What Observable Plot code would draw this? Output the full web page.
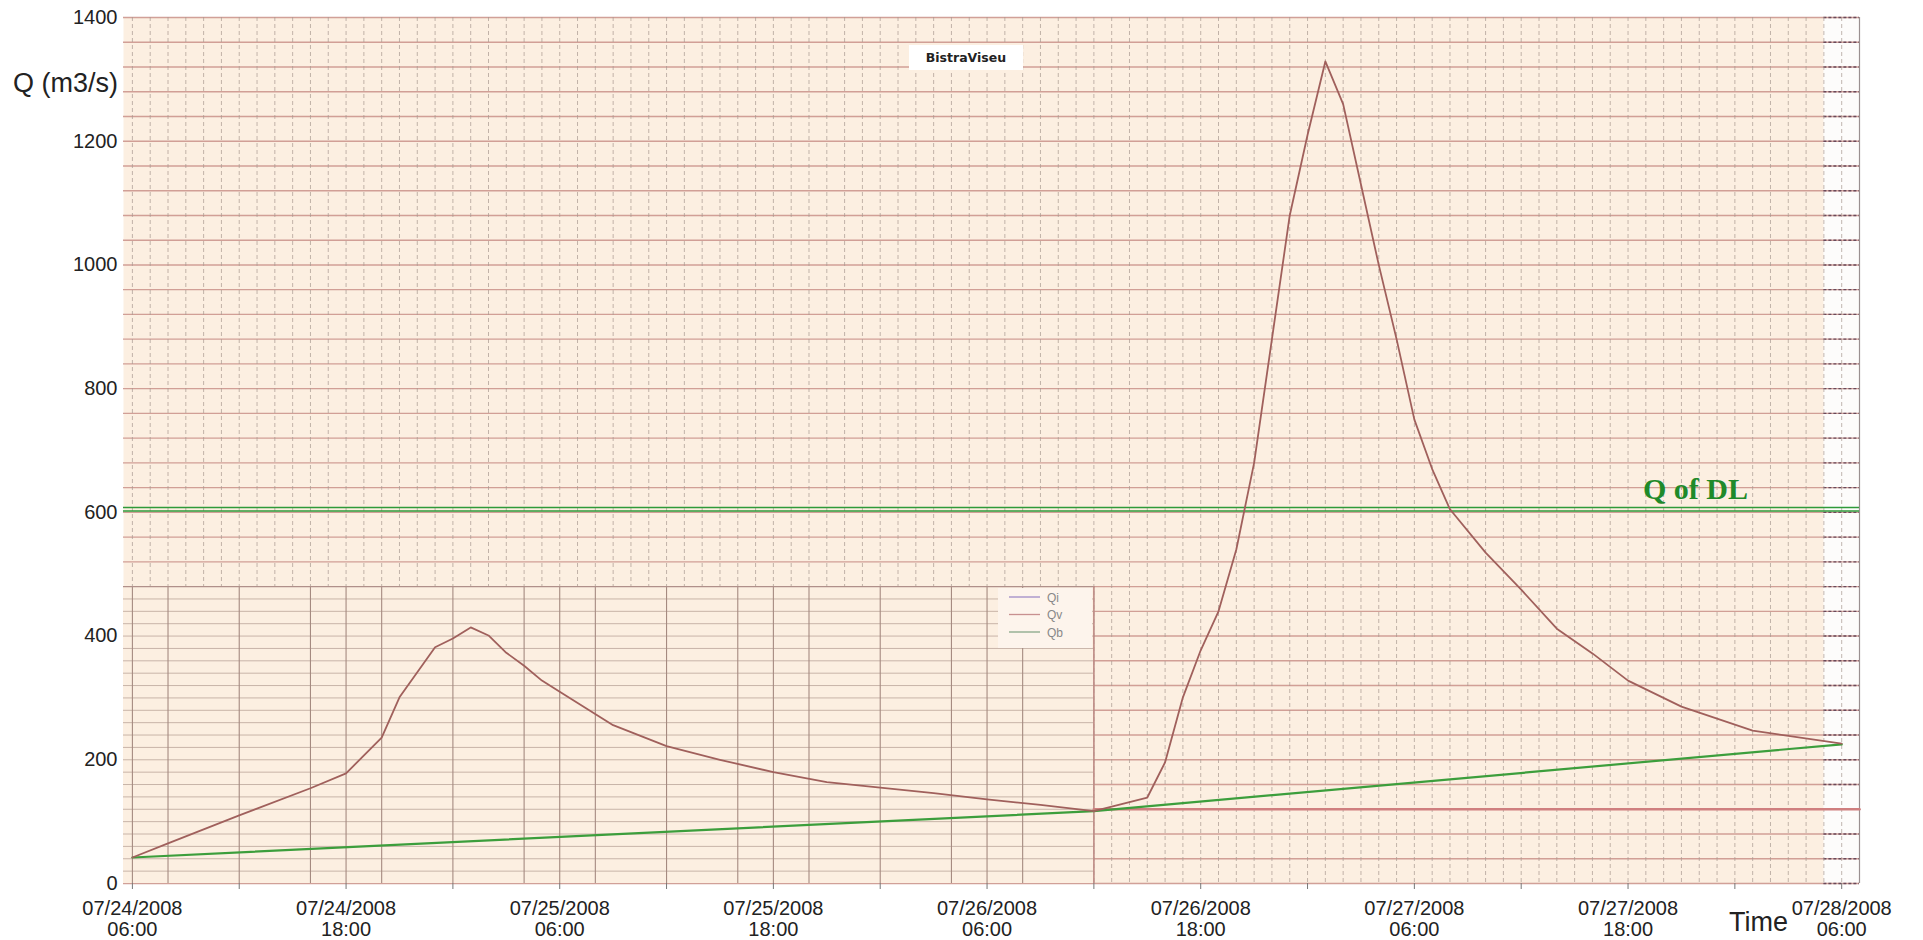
<!DOCTYPE html>
<html><head><meta charset="utf-8">
<script src="https://cdn.jsdelivr.net/npm/d3@7"></script>
<script src="https://cdn.jsdelivr.net/npm/@observablehq/plot@0.6"></script>
<style>
body{margin:0;background:#fff;}
#chart{width:1923px;height:940px;}
</style>
</head><body><div id="chart"></div>
<script>
// ---- data ----
const startTime = "2008-07-24T06:00Z";
const domainTimes = ["2008-07-24T05:30Z", "2008-07-28T07:00Z"];
const yDomain = [0, 1400];
const yTicks = [0, 200, 400, 600, 800, 1000, 1200, 1400];
const xTickTimes = ["2008-07-24T06:00Z","2008-07-24T18:00Z","2008-07-25T06:00Z","2008-07-25T18:00Z","2008-07-26T06:00Z","2008-07-26T18:00Z","2008-07-27T06:00Z","2008-07-27T18:00Z","2008-07-28T06:00Z"];
const xTickLabels = ["07/24/2008\n06:00","07/24/2008\n18:00","07/25/2008\n06:00","07/25/2008\n18:00","07/26/2008\n06:00","07/26/2008\n18:00","07/27/2008\n06:00","07/27/2008\n18:00","07/28/2008\n06:00"];
// hours after 07/24/2008 06:00
const qvHours  = [0, 2, 6, 10, 12, 14, 15, 17, 18, 19, 20, 21, 22, 23, 24, 27, 30, 33, 36, 39, 42, 45, 48, 51, 54, 57, 58, 59, 60, 61, 62, 63, 64, 65, 66, 67, 68, 69, 70, 71, 72, 73, 74, 76, 78, 80, 82, 84, 87, 91, 96];
const qvValues = [42, 65, 110, 154, 178, 236, 301, 382, 396, 414, 401, 373, 352, 328, 310, 256, 222, 200, 180, 164, 155, 146, 136, 127, 117, 139, 196, 301, 377, 440, 540, 680, 880, 1080, 1210, 1329, 1260, 1130, 1000, 880, 750, 670, 605, 535, 475, 412, 372, 328, 286, 247, 226];
const qbHours  = [0, 54, 96];
const qbValues = [42, 117, 225];
const qiHours = [54, 97];
const qiValue = 120;
const qDL = 605;
const qDLLabel = "Q of DL";
const yLabel = "Q (m3/s)";
const xLabel = "Time";
const titleText = "BistraViseu";
const insetEndHour = 54;
const insetTop = 480;
const stripHours = [95, 97];
const legendNames = ["Qi", "Qv", "Qb"];
const legendColors = ["#a08cc8", "#c89090", "#88a888"];

// ---- build ----
const t0 = new Date(startTime);
const hr = h => new Date(t0.getTime() + h * 3600e3);
const qv = qvHours.map((h, i) => ({t: hr(h), v: qvValues[i]}));
const qb = qbHours.map((h, i) => ({t: hr(h), v: qbValues[i]}));
const qi = qiHours.map(h => ({t: hr(h), v: qiValue}));
const xDom = domainTimes.map(d => new Date(d));
const xTicks = xTickTimes.map(d => new Date(d));
const labelOf = new Map(xTicks.map((d, i) => [+d, xTickLabels[i]]));

const hourly = d3.utcHour.range(xDom[0], xDom[1]);
const gridY = d3.range(0, 1401, 40);
const insetEnd = hr(insetEndHour);
const insetV = hourly.filter(d => d >= t0 && d <= insetEnd && ((d.getUTCHours() % 4 === 0) || (d.getUTCHours() % 12 === 6)));
const insetH = d3.range(20, insetTop, 20);
const strip = stripHours.map(hr);
const peach = "#fcefe1";
const sans = "'Liberation Sans', Arial, sans-serif";

const plot = Plot.plot({
  width: 1923, height: 940,
  marginLeft: 123, marginRight: 64, marginTop: 17, marginBottom: 57,
  style: {fontFamily: sans, color: "#222", background: "transparent"},
  x: {type: "utc", domain: xDom, label: null},
  y: {domain: yDomain, label: null},
  marks: [
    Plot.frame({fill: peach, stroke: null}),
    // white strip at right
    Plot.rect([0], {x1: () => strip[0], x2: () => strip[1], y1: 0, y2: 1400, fill: "#fdfcfb"}),
    // main horizontal grid
    Plot.ruleY(gridY, {stroke: "#c99088", strokeWidth: 1.4, strokeOpacity: 0.85}),
    Plot.ruleY(gridY, {x1: () => strip[0], x2: () => strip[1], stroke: "#6a4a5a", strokeWidth: 1.4, strokeDasharray: "3,2"}),
    // main vertical grid (hourly, dashed)
    Plot.ruleX(hourly, {stroke: "#a89890", strokeWidth: 1, strokeDasharray: "4,3", strokeOpacity: 0.7}),
    // inset panel
    Plot.rect([0], {x1: () => xDom[0], x2: () => insetEnd, y1: 0, y2: insetTop, fill: peach}),
    Plot.ruleY(insetH, {x1: () => xDom[0], x2: () => insetEnd, stroke: "#c8b4a8", strokeWidth: 1}),
    Plot.ruleX(insetV, {y1: 0, y2: insetTop, stroke: "#a58a80", strokeWidth: 1.1}),
    Plot.ruleY([insetTop], {x1: () => xDom[0], x2: () => insetEnd, stroke: "#b0908a", strokeWidth: 1.2}),
    Plot.ruleX([insetEnd], {y1: 0, y2: insetTop, stroke: "#c48a84", strokeWidth: 1.2}),
    // right border
    Plot.ruleX([xDom[1]], {stroke: "#9a9090", strokeWidth: 1.2}),
    // Q of DL (double line)
    Plot.ruleY([qDL], {stroke: "#2f9a3a", strokeWidth: 1.4, dy: -1.8}),
    Plot.ruleY([qDL], {stroke: "#2f9a3a", strokeWidth: 1.4, dy: 1.8}),
    // Qi constant line
    Plot.line(qi, {x: "t", y: "v", stroke: "#cf7f7f", strokeWidth: 2.6}),
    // Qb
    Plot.line(qb, {x: "t", y: "v", stroke: "#3c9e3c", strokeWidth: 2.2}),
    // Qv
    Plot.line(qv, {x: "t", y: "v", stroke: "#a0605c", strokeWidth: 1.8}),
    // axes
    Plot.axisY({ticks: yTicks, tickSize: 0, tickPadding: 6, fontSize: 20, tickFormat: d => String(d), label: null}),
    Plot.axisX({ticks: d3.utcHour.every(6), tickSize: 6, tickFormat: () => "", stroke: "#777", label: null}),
    Plot.axisX({ticks: xTicks, tickSize: 0, tickPadding: 17, fontSize: 20, lineHeight: 1.05,
      tickFormat: d => labelOf.get(+d), label: null}),
  ]
});
document.getElementById("chart").appendChild(plot);

// ---- annotations ----
const svg = d3.select(plot);
const fy = plot.scale("y");
svg.append("text").attr("x", 13).attr("y", 92).attr("font-size", 27).attr("text-anchor", "start")
  .attr("font-family", sans).attr("fill", "#222").text(yLabel);
svg.append("text").attr("x", 1729).attr("y", 931).attr("font-size", 27).attr("text-anchor", "start")
  .attr("font-family", sans).attr("fill", "#222").text(xLabel);
// title box
svg.append("rect").attr("x", 909).attr("y", 45).attr("width", 114).attr("height", 25).attr("fill", "#ffffff");
svg.append("text").attr("x", 966).attr("y", 62).attr("text-anchor", "middle").attr("font-size", 12.5)
  .attr("font-weight", "bold").attr("font-family", "'DejaVu Sans', sans-serif").attr("fill", "#222").text(titleText);
// Q of DL label
svg.append("text").attr("x", 1643).attr("y", fy.apply(qDL) - 10).attr("font-size", 30).attr("font-weight", "bold")
  .attr("text-anchor", "start")
  .attr("font-family", "'Liberation Serif', 'Times New Roman', serif").attr("fill", "#1f8a2a").text(qDLLabel);
// legend
const lg = svg.append("g");
lg.append("rect").attr("x", 998).attr("y", 588).attr("width", 94).attr("height", 60).attr("fill", "#fdf4ec");
legendNames.forEach((n, i) => {
  const y = 597 + i * 17.5;
  lg.append("line").attr("x1", 1009).attr("x2", 1040).attr("y1", y).attr("y2", y).attr("stroke", legendColors[i]).attr("stroke-width", 1.3);
  lg.append("text").attr("x", 1047).attr("y", y + 4.5).attr("font-size", 12).attr("fill", "#888").attr("text-anchor", "start")
    .attr("font-family", sans).text(n);
});
</script>
</body></html>
